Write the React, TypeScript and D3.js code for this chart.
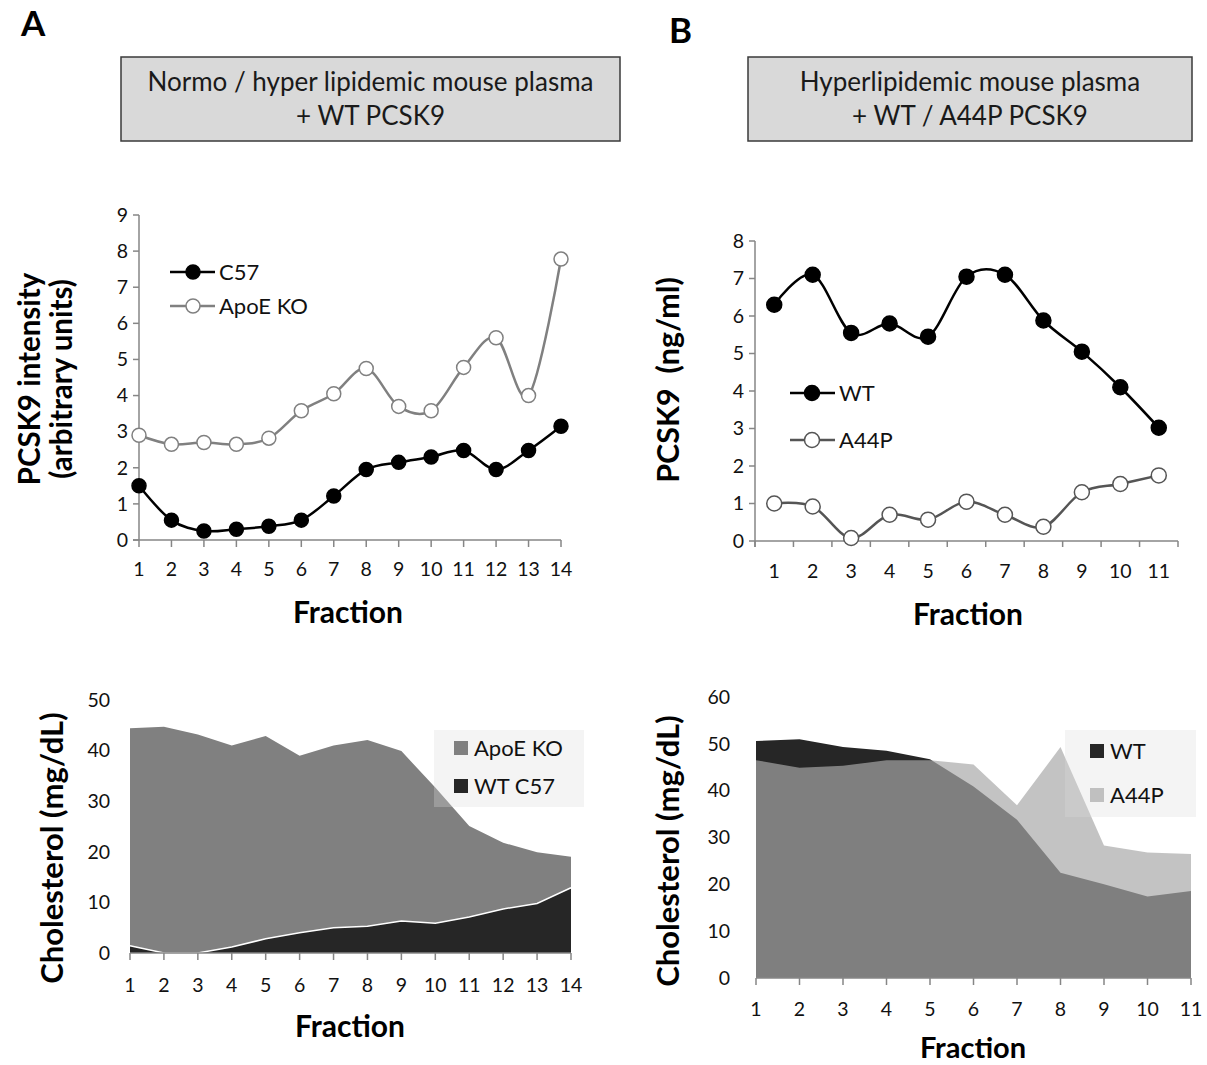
import * as d3 from 'd3'

// Panel A (14 fractions), panel B (11 fractions)
const fractionsA = [1, 2, 3, 4, 5, 6, 7, 8, 9, 10, 11, 12, 13, 14]
const fractionsB = [1, 2, 3, 4, 5, 6, 7, 8, 9, 10, 11]

// PCSK9 intensity, arbitrary units
const c57 = [1.5, 0.55, 0.25, 0.3, 0.38, 0.55, 1.22, 1.95, 2.15, 2.3, 2.48, 1.95, 2.48, 3.15]
const apoeKO = [2.9, 2.65, 2.7, 2.65, 2.82, 3.58, 4.05, 4.75, 3.7, 3.58, 4.78, 5.6, 4.0, 7.78]

// PCSK9 ng/ml
const wtPcsk9 = [6.3, 7.1, 5.55, 5.8, 5.45, 7.05, 7.1, 5.88, 5.05, 4.1, 3.02]
const a44pPcsk9 = [1.0, 0.92, 0.08, 0.7, 0.57, 1.05, 0.7, 0.38, 1.3, 1.52, 1.75]

// Cholesterol mg/dL
const cholApoeKO = [44.4, 44.7, 43.2, 41.0, 42.9, 39.0, 41.0, 42.1, 39.9, 32.7, 25.1, 21.8, 19.9, 19.0]
const cholC57 = [1.45, 0, 0, 1.2, 2.8, 4.0, 5.0, 5.3, 6.3, 5.9, 7.1, 8.7, 9.8, 12.9]
const cholWT = [50.6, 51.0, 49.3, 48.5, 46.7, 40.9, 33.8, 22.5, 20.0, 17.4, 18.6]
const cholA44P = [46.5, 44.9, 45.3, 46.5, 46.5, 45.6, 36.9, 49.3, 28.3, 26.8, 26.5]

const ticksA1 = [0, 1, 2, 3, 4, 5, 6, 7, 8, 9]
const ticksB1 = [0, 1, 2, 3, 4, 5, 6, 7, 8]
const ticksA2 = [0, 10, 20, 30, 40, 50]
const ticksB2 = [0, 10, 20, 30, 40, 50, 60]

const font = "Lato, 'Open Sans', sans-serif"
const axisColor = '#868686'
const tickSize = 19.5

const Header = ({ x, y, w, h, lines }) => (
  <g>
    <rect x={x} y={y} width={w} height={h} fill='#d9d9d9' stroke='#3a3a3a' strokeWidth={1.5} />
    {lines.map((l, i) => (
      <text key={i} x={x + w / 2} y={y + 34 + i * 34} textAnchor='middle' fontSize={26} fill='#1a1a1a'>{l}</text>
    ))}
  </g>
)

const YTicks = ({ yScale, ticks, x, tick }) => ticks.map(t => (
  <g key={t}>
    {tick && <line x1={x - 6} x2={x} y1={yScale(t)} y2={yScale(t)} stroke={axisColor} strokeWidth={1.5} />}
    <text x={x - 11} y={yScale(t)} dy='0.35em' textAnchor='end' fontSize={tickSize} fill='#111'>{t}</text>
  </g>
))

const Marker = ({ cx, cy, r, filled, color }) => (
  <circle cx={cx} cy={cy} r={r} fill={filled ? '#000' : '#fff'} stroke={color} strokeWidth={1.5} />
)

const TopA = () => {
  const x = d3.scaleLinear().domain([1, 14]).range([139, 561])
  const y = d3.scaleLinear().domain([0, 9]).range([540, 215])
  const line = d3.line().x((d, i) => x(fractionsA[i])).y(d => y(d)).curve(d3.curveCardinal.tension(0))
  const series = [
    { name: 'C57', values: c57, color: '#000', filled: true, ly: 272 },
    { name: 'ApoE KO', values: apoeKO, color: '#808080', filled: false, ly: 306 },
  ]
  return (
    <g>
      <line x1={139} x2={139} y1={215} y2={540} stroke={axisColor} strokeWidth={1.5} />
      <line x1={133} x2={561} y1={540} y2={540} stroke={axisColor} strokeWidth={1.5} />
      <YTicks yScale={y} ticks={ticksA1} x={139} tick />
      {fractionsA.map(f => (
        <g key={f}>
          <line x1={x(f)} x2={x(f)} y1={540} y2={547} stroke={axisColor} strokeWidth={1.5} />
          <text x={x(f)} y={576} textAnchor='middle' fontSize={tickSize} fill='#111'>{f}</text>
        </g>
      ))}
      {series.map(s => (
        <g key={s.name}>
          <path d={line(s.values)} fill='none' stroke={s.color} strokeWidth={2.5} />
          {s.values.map((v, i) => <Marker key={i} cx={x(fractionsA[i])} cy={y(v)} r={7} filled={s.filled} color={s.color} />)}
          <line x1={170} x2={215} y1={s.ly} y2={s.ly} stroke={s.color} strokeWidth={2.5} />
          <Marker cx={193} cy={s.ly} r={7} filled={s.filled} color={s.color} />
          <text x={219} y={s.ly} dy='0.35em' fontSize={22} fill='#111'>{s.name}</text>
        </g>
      ))}
      <text transform='translate(40,379) rotate(-90)' textAnchor='middle' fontSize={29.5} fontWeight='bold'>PCSK9 intensity</text>
      <text transform='translate(72,379) rotate(-90)' textAnchor='middle' fontSize={29.5} fontWeight='bold'>(arbitrary units)</text>
      <text x={348} y={623} textAnchor='middle' fontSize={30} fontWeight='bold'>Fraction</text>
    </g>
  )
}

const TopB = () => {
  const x = d3.scaleBand().domain(fractionsB).range([755, 1178])
  const cx = f => x(f) + x.bandwidth() / 2
  const y = d3.scaleLinear().domain([0, 8]).range([541, 241])
  const line = d3.line().x((d, i) => cx(fractionsB[i])).y(d => y(d)).curve(d3.curveCardinal.tension(0))
  const series = [
    { name: 'WT', values: wtPcsk9, color: '#000', filled: true, ly: 393 },
    { name: 'A44P', values: a44pPcsk9, color: '#555', filled: false, ly: 440 },
  ]
  const bounds = [...fractionsB.map(f => x(f)), 1178]
  return (
    <g>
      <line x1={755} x2={755} y1={241} y2={547} stroke={axisColor} strokeWidth={1.5} />
      <line x1={755} x2={1178} y1={541} y2={541} stroke={axisColor} strokeWidth={1.5} />
      <YTicks yScale={y} ticks={ticksB1} x={755} tick />
      {bounds.map((b, i) => <line key={i} x1={b} x2={b} y1={541} y2={547} stroke={axisColor} strokeWidth={1.5} />)}
      {fractionsB.map(f => <text key={f} x={cx(f)} y={578} textAnchor='middle' fontSize={tickSize} fill='#111'>{f}</text>)}
      {series.map(s => (
        <g key={s.name}>
          <path d={line(s.values)} fill='none' stroke={s.color} strokeWidth={2.5} />
          {s.values.map((v, i) => <Marker key={i} cx={cx(fractionsB[i])} cy={y(v)} r={7.5} filled={s.filled} color={s.color} />)}
          <line x1={790} x2={835} y1={s.ly} y2={s.ly} stroke={s.color} strokeWidth={2.5} />
          <Marker cx={812} cy={s.ly} r={7.5} filled={s.filled} color={s.color} />
          <text x={839} y={s.ly} dy='0.35em' fontSize={22} fill='#111'>{s.name}</text>
        </g>
      ))}
      <text transform='translate(679,380) rotate(-90)' textAnchor='middle' fontSize={30.5} fontWeight='bold' style={{ whiteSpace: 'pre' }}>{'PCSK9  (ng/ml)'}</text>
      <text x={968} y={625} textAnchor='middle' fontSize={30} fontWeight='bold'>Fraction</text>
    </g>
  )
}

const Legend = ({ x, y, w, h, items }) => (
  <g>
    <rect x={x} y={y} width={w} height={h} fill='#d9d9d9' opacity={0.3} />
    {items.map(it => (
      <g key={it.name}>
        <rect x={x + it.sx} y={y + it.dy - 7} width={14} height={14} fill={it.color} opacity={it.opacity || 1} />
        <text x={x + it.sx + 20} y={y + it.dy} dy='0.35em' fontSize={22} fill='#111'>{it.name}</text>
      </g>
    ))}
  </g>
)

const BottomA = () => {
  const x = d3.scaleLinear().domain([1, 14]).range([130, 571])
  const y = d3.scaleLinear().domain([0, 50]).range([953, 700])
  const area = d3.area().x((d, i) => x(fractionsA[i])).y0(y(0)).y1(d => y(d))
  const edge = d3.line().x((d, i) => x(fractionsA[i])).y(d => y(d))
  return (
    <g>
      <path d={area(cholApoeKO)} fill='#808080' />
      <path d={area(cholC57)} fill='#262626' />
      <path d={edge(cholC57)} fill='none' stroke='#fff' strokeWidth={1.5} />
      <line x1={130} x2={571} y1={953} y2={953} stroke={axisColor} strokeWidth={1.5} />
      {fractionsA.map(f => (
        <g key={f}>
          <line x1={x(f)} x2={x(f)} y1={953} y2={960} stroke={axisColor} strokeWidth={1.5} />
          <text x={x(f)} y={992} textAnchor='middle' fontSize={tickSize} fill='#111'>{f}</text>
        </g>
      ))}
      <YTicks yScale={y} ticks={ticksA2} x={121} tick={false} />
      <Legend x={434} y={730} w={150} h={77} items={[
        { name: 'ApoE KO', color: '#808080', sx: 20, dy: 18 },
        { name: 'WT C57', color: '#262626', sx: 20, dy: 56 },
      ]} />
      <text transform='translate(63,848) rotate(-90)' textAnchor='middle' fontSize={31} fontWeight='bold'>Cholesterol (mg/dL)</text>
      <text x={350} y={1037} textAnchor='middle' fontSize={30} fontWeight='bold'>Fraction</text>
    </g>
  )
}

const BottomB = () => {
  const x = d3.scaleLinear().domain([1, 11]).range([756, 1191])
  const y = d3.scaleLinear().domain([0, 60]).range([978, 697])
  const area = d3.area().x((d, i) => x(fractionsB[i])).y0(y(0)).y1(d => y(d))
  return (
    <g>
      <path d={area(cholWT)} fill='#262626' />
      <path d={area(cholA44P)} fill='#a8a8a8' opacity={0.69} />
      <line x1={756} x2={1191} y1={978} y2={978} stroke={axisColor} strokeWidth={1.5} />
      {fractionsB.map(f => (
        <g key={f}>
          <line x1={x(f)} x2={x(f)} y1={978} y2={985} stroke={axisColor} strokeWidth={1.5} />
          <text x={x(f)} y={1016} textAnchor='middle' fontSize={tickSize} fill='#111'>{f}</text>
        </g>
      ))}
      <YTicks yScale={y} ticks={ticksB2} x={741} tick={false} />
      <Legend x={1065} y={730} w={131} h={87} items={[
        { name: 'WT', color: '#262626', sx: 25, dy: 21 },
        { name: 'A44P', color: '#a8a8a8', opacity: 0.69, sx: 25, dy: 65 },
      ]} />
      <text transform='translate(679,851) rotate(-90)' textAnchor='middle' fontSize={31} fontWeight='bold'>Cholesterol (mg/dL)</text>
      <text x={973} y={1058} textAnchor='middle' fontSize={29} fontWeight='bold'>Fraction</text>
    </g>
  )
}

export default function App() {
  return (
    <svg width={1207} height={1065} style={{ position: 'absolute', left: 0, top: 0, background: '#fff' }} fontFamily={font}>
      <text x={21} y={36} fontSize={35} fontWeight='bold'>A</text>
      <text x={669} y={43} fontSize={35} fontWeight='bold'>B</text>
      <Header x={121} y={57} w={499} h={84} lines={['Normo / hyper lipidemic mouse plasma', '+ WT PCSK9']} />
      <Header x={748} y={57} w={444} h={84} lines={['Hyperlipidemic mouse plasma', '+ WT / A44P PCSK9']} />
      <TopA />
      <TopB />
      <BottomA />
      <BottomB />
    </svg>
  )
}
